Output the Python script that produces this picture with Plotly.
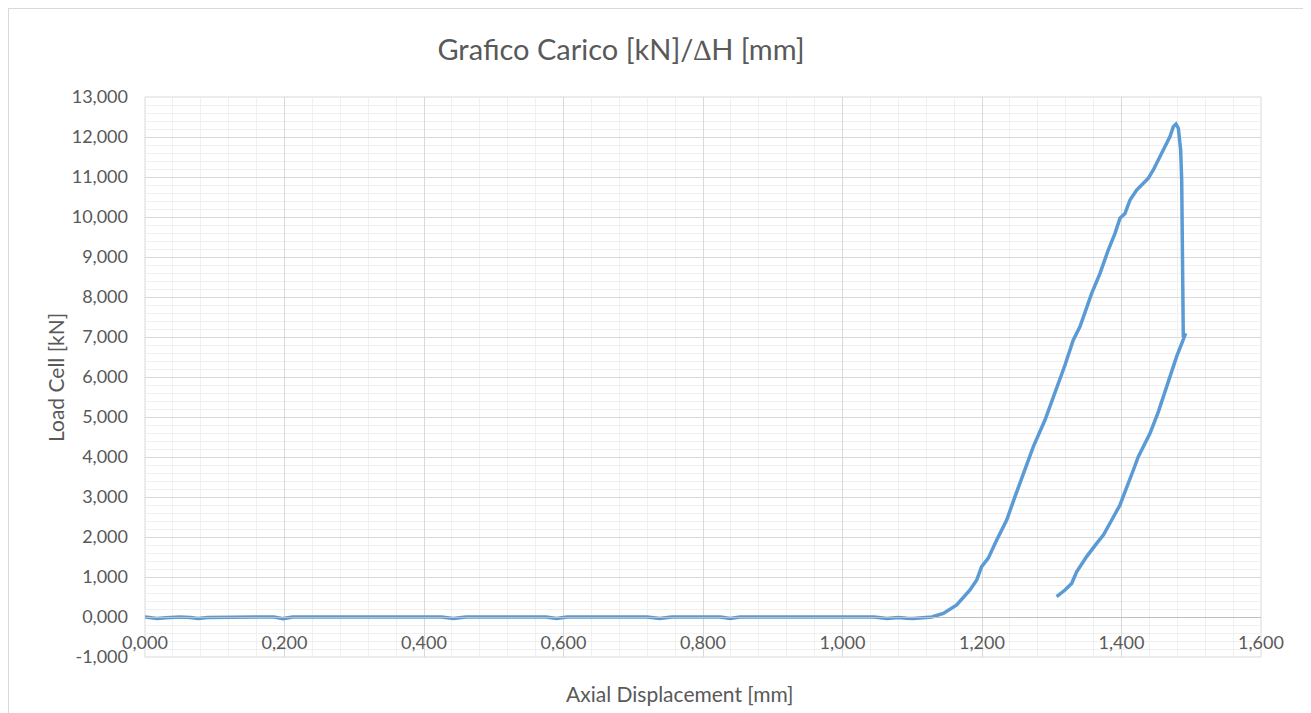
import plotly.graph_objects as go

# Axial displacement [mm]
displacement = [
    0.000, 0.010, 0.017, 0.030, 0.050, 0.065, 0.076, 0.090, 0.120, 0.185,
    0.198, 0.212, 0.300, 0.425, 0.442, 0.460, 0.575, 0.590, 0.605, 0.720,
    0.738, 0.755, 0.825, 0.839, 0.853, 0.950, 1.045, 1.064, 1.080, 1.092,
    1.101, 1.115, 1.128, 1.1445, 1.1637, 1.1828, 1.1924, 1.1995, 1.209, 1.2211,
    1.2354, 1.2473, 1.2616, 1.2736, 1.2903, 1.3022, 1.3118, 1.319, 1.3309, 1.3405,
    1.3572, 1.3692, 1.381, 1.3907, 1.3978, 1.405, 1.4122, 1.4217, 1.4289, 1.4385,
    1.4456, 1.4552, 1.4624, 1.4695, 1.4743, 1.4781, 1.4815, 1.4848, 1.4863, 1.4877,
    1.4886, 1.492, 1.479, 1.4695, 1.4599, 1.4528, 1.4409, 1.4313, 1.4241, 1.417,
    1.4074, 1.3978, 1.386, 1.374, 1.3644, 1.350, 1.3357, 1.3285, 1.319, 1.307,
]

# Load cell [kN]
load = [
    0.00, -0.02, -0.04, -0.02, 0.00, -0.01, -0.04, -0.01, 0.00, 0.00,
    -0.04, 0.00, 0.00, 0.00, -0.04, 0.00, 0.00, -0.04, 0.00, 0.00,
    -0.04, 0.00, 0.00, -0.04, 0.00, 0.00, 0.00, -0.04, -0.01, -0.03,
    -0.04, -0.02, 0.00, 0.09, 0.30, 0.675, 0.925, 1.26, 1.47, 1.925,
    2.425, 3.01, 3.72, 4.26, 4.925, 5.47, 5.97, 6.30, 6.925, 7.26,
    8.09, 8.59, 9.175, 9.59, 9.97, 10.09, 10.425, 10.675, 10.80, 10.97,
    11.175, 11.51, 11.76, 12.01, 12.26, 12.325, 12.22, 11.675, 10.925, 9.26,
    7.00, 7.09, 6.51, 6.01, 5.51, 5.13, 4.59, 4.26, 4.01, 3.675,
    3.26, 2.80, 2.425, 2.05, 1.84, 1.51, 1.13, 0.84, 0.675, 0.51,
]

# y tick values and labels (Excel style, hyphen minus)
y_tickvals = [-1, 0, 1, 2, 3, 4, 5, 6, 7, 8, 9, 10, 11, 12, 13]
y_ticktext = ["-1,000", "0,000", "1,000", "2,000", "3,000", "4,000", "5,000",
              "6,000", "7,000", "8,000", "9,000", "10,000", "11,000", "12,000", "13,000"]

title_text = "Grafico Carico [kN]/\u2206H [mm]"
x_title = "Axial Displacement [mm]"
y_title = "Load Cell [kN]"

FONT = "Lato"
TXT = "#595959"

fig = go.Figure()
fig.add_trace(go.Scatter(
    x=displacement, y=load, mode="lines",
    line=dict(color="#5B9BD5", width=3.5, shape="linear"),
    showlegend=False,
))

OFF = 8  # page body offset
W, H = 1311, 713
PX0, PX1, PY0, PY1 = 145, 1261, 97, 657  # plot area in reference pixels
plot_w = PX1 - PX0
plot_h = PY1 - PY0
L = PX0 - OFF
T = PY0 - OFF
R = W - L - plot_w
B = H - T - plot_h


def px(xr):
    return (xr - PX0) / plot_w


def py(yr):
    return (PY1 - yr) / plot_h


fig.update_layout(
    width=W, height=H,
    margin=dict(l=L, r=R, t=T, b=B),
    paper_bgcolor="white", plot_bgcolor="white",
    separators=",.",
    font=dict(family=FONT, color=TXT, size=18),
    xaxis=dict(
        range=[0, 1.6], dtick=0.2, tick0=0, tickformat=".3f",
        showgrid=True, gridcolor="#D9D9D9", gridwidth=1,
        minor=dict(dtick=0.04, showgrid=True, gridcolor="#F0F0F0", gridwidth=1),
        anchor="free", position=py(617),
        showline=True, linecolor="#BFBFBF", linewidth=1,
        ticks="", ticklabelstandoff=9,
        zeroline=False,
        tickfont=dict(family=FONT, color=TXT, size=18),
    ),
    yaxis=dict(
        range=[-1, 13], tickmode="array", tickvals=y_tickvals, ticktext=y_ticktext,
        domain=[0, 1],
        showgrid=True, gridcolor="#D9D9D9", gridwidth=1,
        minor=dict(dtick=0.2, tick0=0, showgrid=True, gridcolor="#F0F0F0", gridwidth=1),
        zeroline=False, showline=False,
        ticks="", ticklabelstandoff=16,
        tickfont=dict(family=FONT, color=TXT, size=18),
    ),
    title=dict(
        text=title_text, x=px(621), xref="paper", xanchor="center",
        y=1 - (50 - OFF) / H, yref="container", yanchor="middle",
        font=dict(family=FONT, color=TXT, size=29),
    ),
)

fig.add_annotation(
    text=x_title, xref="paper", yref="paper",
    x=px(680), y=py(693),
    xanchor="center", yanchor="middle", showarrow=False,
    font=dict(family=FONT, color=TXT, size=21),
)
fig.add_annotation(
    text=y_title, xref="paper", yref="paper",
    x=px(55), y=py(378), textangle=-90,
    xanchor="center", yanchor="middle", showarrow=False,
    font=dict(family=FONT, color=TXT, size=21),
)

# plot area frame
fig.add_shape(type="rect", xref="paper", yref="paper", x0=0, x1=1, y0=0, y1=1,
              line=dict(color="#D9D9D9", width=1), layer="below")
# chart area border
fig.add_shape(type="rect", xref="paper", yref="paper",
              x0=px(8), x1=px(1308), y0=py(725), y1=py(8),
              line=dict(color="#D9D9D9", width=2), layer="below")

fig.write_html("out.html")
